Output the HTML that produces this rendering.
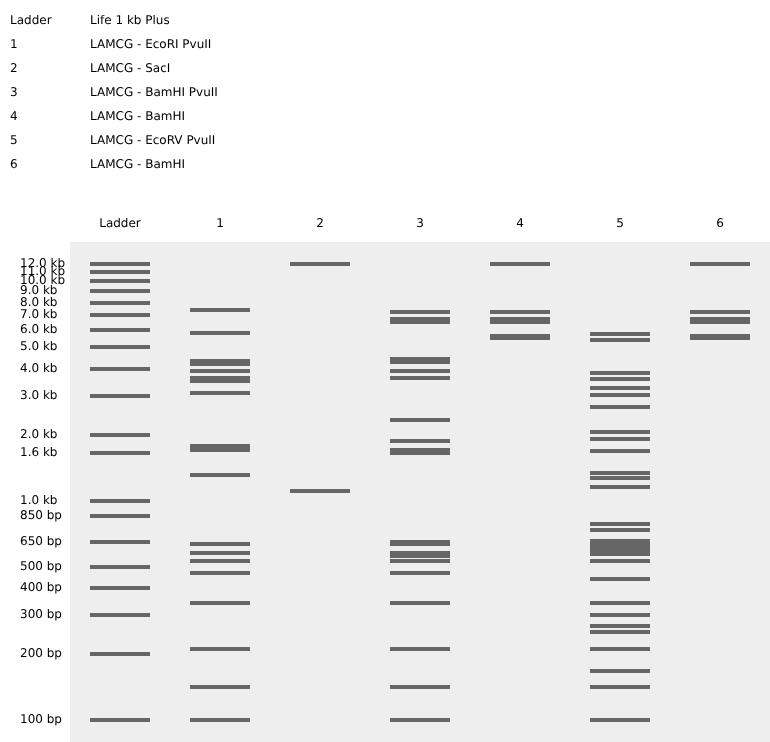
<!DOCTYPE html>
<html><head><meta charset="utf-8"><title>Gel</title>
<style>html,body{margin:0;padding:0;background:#fff}svg{display:block}text{font-family:"DejaVu Sans","Liberation Sans",sans-serif;font-size:12px;fill:#000;text-rendering:geometricPrecision}.b{fill:#666}</style></head><body>
<svg width="770" height="742" viewBox="0 0 770 742">
<rect x="0" y="0" width="770" height="742" fill="#fff"/>
<text x="10" y="24.28">Ladder</text><text x="90" y="24.28">Life 1 kb Plus</text>
<text x="10" y="48.28">1</text><text x="90" y="48.28">LAMCG - EcoRI PvuII</text>
<text x="10" y="72.28">2</text><text x="90" y="72.28">LAMCG - SacI</text>
<text x="10" y="96.28">3</text><text x="90" y="96.28">LAMCG - BamHI PvuII</text>
<text x="10" y="120.28">4</text><text x="90" y="120.28">LAMCG - BamHI</text>
<text x="10" y="144.28">5</text><text x="90" y="144.28">LAMCG - EcoRV PvuII</text>
<text x="10" y="168.28">6</text><text x="90" y="168.28">LAMCG - BamHI</text>
<rect x="70" y="242" width="700" height="500" fill="#eee"/>
<text x="120" y="227.28" text-anchor="middle">Ladder</text>
<text x="220" y="227.28" text-anchor="middle">1</text>
<text x="320" y="227.28" text-anchor="middle">2</text>
<text x="420" y="227.28" text-anchor="middle">3</text>
<text x="520" y="227.28" text-anchor="middle">4</text>
<text x="620" y="227.28" text-anchor="middle">5</text>
<text x="720" y="227.28" text-anchor="middle">6</text>
<text x="20" y="267.28">12.0 kb</text>
<rect class="b" x="90" y="262" width="60" height="4"/>
<text x="20" y="275.28">11.0 kb</text>
<rect class="b" x="90" y="270" width="60" height="4"/>
<text x="20" y="284.28">10.0 kb</text>
<rect class="b" x="90" y="279" width="60" height="4"/>
<text x="20" y="294.28">9.0 kb</text>
<rect class="b" x="90" y="289" width="60" height="4"/>
<text x="20" y="306.28">8.0 kb</text>
<rect class="b" x="90" y="301" width="60" height="4"/>
<text x="20" y="318.28">7.0 kb</text>
<rect class="b" x="90" y="313" width="60" height="4"/>
<text x="20" y="333.28">6.0 kb</text>
<rect class="b" x="90" y="328" width="60" height="4"/>
<text x="20" y="350.28">5.0 kb</text>
<rect class="b" x="90" y="345" width="60" height="4"/>
<text x="20" y="372.28">4.0 kb</text>
<rect class="b" x="90" y="367" width="60" height="4"/>
<text x="20" y="399.28">3.0 kb</text>
<rect class="b" x="90" y="394" width="60" height="4"/>
<text x="20" y="438.28">2.0 kb</text>
<rect class="b" x="90" y="433" width="60" height="4"/>
<text x="20" y="456.28">1.6 kb</text>
<rect class="b" x="90" y="451" width="60" height="4"/>
<text x="20" y="504.28">1.0 kb</text>
<rect class="b" x="90" y="499" width="60" height="4"/>
<text x="20" y="519.28">850 bp</text>
<rect class="b" x="90" y="514" width="60" height="4"/>
<text x="20" y="545.28">650 bp</text>
<rect class="b" x="90" y="540" width="60" height="4"/>
<text x="20" y="570.28">500 bp</text>
<rect class="b" x="90" y="565" width="60" height="4"/>
<text x="20" y="591.28">400 bp</text>
<rect class="b" x="90" y="586" width="60" height="4"/>
<text x="20" y="618.28">300 bp</text>
<rect class="b" x="90" y="613" width="60" height="4"/>
<text x="20" y="657.28">200 bp</text>
<rect class="b" x="90" y="652" width="60" height="4"/>
<text x="20" y="723.28">100 bp</text>
<rect class="b" x="90" y="718" width="60" height="4"/>
<rect class="b" x="190" y="308" width="60" height="4"/>
<rect class="b" x="190" y="331" width="60" height="4"/>
<rect class="b" x="190" y="359" width="60" height="7"/>
<rect class="b" x="190" y="369" width="60" height="4"/>
<rect class="b" x="190" y="376" width="60" height="7"/>
<rect class="b" x="190" y="391" width="60" height="4"/>
<rect class="b" x="190" y="444" width="60" height="8"/>
<rect class="b" x="190" y="473" width="60" height="4"/>
<rect class="b" x="190" y="542" width="60" height="4"/>
<rect class="b" x="190" y="551" width="60" height="4"/>
<rect class="b" x="190" y="559" width="60" height="4"/>
<rect class="b" x="190" y="571" width="60" height="4"/>
<rect class="b" x="190" y="601" width="60" height="4"/>
<rect class="b" x="190" y="647" width="60" height="4"/>
<rect class="b" x="190" y="685" width="60" height="4"/>
<rect class="b" x="190" y="718" width="60" height="4"/>
<rect class="b" x="290" y="262" width="60" height="4"/>
<rect class="b" x="290" y="489" width="60" height="4"/>
<rect class="b" x="390" y="310" width="60" height="4"/>
<rect class="b" x="390" y="317" width="60" height="7"/>
<rect class="b" x="390" y="357" width="60" height="7"/>
<rect class="b" x="390" y="369" width="60" height="4"/>
<rect class="b" x="390" y="376" width="60" height="4"/>
<rect class="b" x="390" y="418" width="60" height="4"/>
<rect class="b" x="390" y="439" width="60" height="4"/>
<rect class="b" x="390" y="448" width="60" height="7"/>
<rect class="b" x="390" y="540" width="60" height="6"/>
<rect class="b" x="390" y="551" width="60" height="7"/>
<rect class="b" x="390" y="559" width="60" height="4"/>
<rect class="b" x="390" y="571" width="60" height="4"/>
<rect class="b" x="390" y="601" width="60" height="4"/>
<rect class="b" x="390" y="647" width="60" height="4"/>
<rect class="b" x="390" y="685" width="60" height="4"/>
<rect class="b" x="390" y="718" width="60" height="4"/>
<rect class="b" x="490" y="262" width="60" height="4"/>
<rect class="b" x="490" y="310" width="60" height="4"/>
<rect class="b" x="490" y="317" width="60" height="7"/>
<rect class="b" x="490" y="334" width="60" height="6"/>
<rect class="b" x="590" y="332" width="60" height="4"/>
<rect class="b" x="590" y="338" width="60" height="4"/>
<rect class="b" x="590" y="371" width="60" height="4"/>
<rect class="b" x="590" y="377" width="60" height="4"/>
<rect class="b" x="590" y="386" width="60" height="4"/>
<rect class="b" x="590" y="393" width="60" height="4"/>
<rect class="b" x="590" y="405" width="60" height="4"/>
<rect class="b" x="590" y="430" width="60" height="4"/>
<rect class="b" x="590" y="437" width="60" height="4"/>
<rect class="b" x="590" y="449" width="60" height="4"/>
<rect class="b" x="590" y="471" width="60" height="4"/>
<rect class="b" x="590" y="476" width="60" height="4"/>
<rect class="b" x="590" y="485" width="60" height="4"/>
<rect class="b" x="590" y="522" width="60" height="4"/>
<rect class="b" x="590" y="528" width="60" height="4"/>
<rect class="b" x="590" y="539" width="60" height="17"/>
<rect class="b" x="590" y="559" width="60" height="4"/>
<rect class="b" x="590" y="577" width="60" height="4"/>
<rect class="b" x="590" y="601" width="60" height="4"/>
<rect class="b" x="590" y="613" width="60" height="4"/>
<rect class="b" x="590" y="624" width="60" height="4"/>
<rect class="b" x="590" y="630" width="60" height="4"/>
<rect class="b" x="590" y="647" width="60" height="4"/>
<rect class="b" x="590" y="669" width="60" height="4"/>
<rect class="b" x="590" y="685" width="60" height="4"/>
<rect class="b" x="590" y="718" width="60" height="4"/>
<rect class="b" x="690" y="262" width="60" height="4"/>
<rect class="b" x="690" y="310" width="60" height="4"/>
<rect class="b" x="690" y="317" width="60" height="7"/>
<rect class="b" x="690" y="334" width="60" height="6"/>
</svg></body></html>
